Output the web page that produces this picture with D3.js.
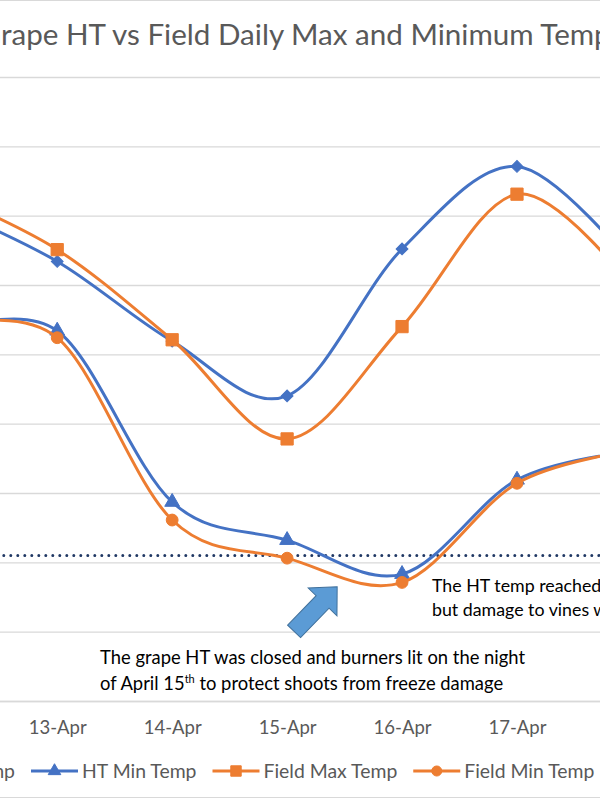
<!DOCTYPE html>
<html>
<head>
<meta charset="utf-8">
<script src="https://cdn.jsdelivr.net/npm/d3@7"></script>
<style>
  body { margin: 0; background: #fff; }
  text { font-family: Lato, "Open Sans", sans-serif; }
</style>
</head>
<body>
<svg id="chart" width="600" height="800"></svg>
<script>
// chart values (deg F)
var dates = ["12-Apr", "13-Apr", "14-Apr", "15-Apr", "16-Apr", "17-Apr", "18-Apr"];
var htMax = [81.4, 73.4, 61.9, 54.0, 75.2, 87.1, 72.9];
var htMin = [63.0, 63.4, 38.7, 33.2, 28.3, 41.9, 46.0];
var fieldMax = [83.3, 75.1, 62.1, 47.8, 64.0, 83.1, 69.7];
var fieldMin = [63.9, 62.4, 36.1, 30.6, 27.1, 41.4, 46.1];
var yTicks = [10, 20, 30, 40, 50, 60, 70, 80, 90, 100];
var freezeTemp = 31;

var titleText = "Grape HT vs Field Daily Max and Minimum Temperatures";
var noteRight = ["The HT temp reached 28\u00B0F", "but damage to vines was minimal"];

var svg = d3.select("#chart");
var W = 600, H = 800;
var grey = "#595959";

svg.append("rect").attr("width", W).attr("height", H).attr("fill", "#fff");

// chart border (only top and bottom visible in the crop)
svg.append("rect")
  .attr("x", -300).attr("y", 0.5)
  .attr("width", 1200).attr("height", 797)
  .attr("fill", "none").attr("stroke", "#d9d9d9");

var plotLeft = -115.2, plotRight = 689.4;
var x = d3.scalePoint().domain(dates).range([plotLeft, plotRight]).padding(0.5);
var y = d3.scaleLinear().domain([10, 100]).range([701, 77]);

// title
var title = svg.append("text")
  .attr("y", 45)
  .attr("fill", grey)
  .attr("font-size", 29.6)
  .text(titleText);
var gWidth = title.node().getSubStringLength(0, 1);
title.attr("x", -gWidth + 1);

// gridlines
var grid = svg.append("g")
  .attr("transform", "translate(" + plotLeft + ",0)")
  .call(d3.axisLeft(y).tickValues(yTicks).tickSize(-(plotRight - plotLeft)).tickPadding(10));
grid.select(".domain").remove();
grid.selectAll("line").attr("stroke", "#d9d9d9").attr("stroke-width", 1.3);
grid.selectAll("text").attr("fill", grey).attr("font-size", 19).attr("font-family", "Lato, sans-serif");

// category axis
var xAxis = svg.append("g")
  .attr("transform", "translate(0," + y(10) + ")")
  .call(d3.axisBottom(x).tickSize(0).tickPadding(20));
xAxis.select(".domain").attr("stroke", "#d9d9d9").attr("stroke-width", 1.3);
xAxis.selectAll("text").attr("fill", grey).attr("font-size", 18.5).attr("font-family", "Lato, sans-serif");

// freeze reference line
svg.append("line")
  .attr("x1", plotLeft).attr("x2", plotRight)
  .attr("y1", y(freezeTemp)).attr("y2", y(freezeTemp))
  .attr("stroke", "#203864")
  .attr("stroke-width", 3)
  .attr("stroke-linecap", "round")
  .attr("stroke-dasharray", "0 7");

var series = [
  { name: "HT Max Temp", values: htMax, color: "#4472C4", shape: "diamond" },
  { name: "HT Min Temp", values: htMin, color: "#4472C4", shape: "triangle" },
  { name: "Field Max Temp", values: fieldMax, color: "#ED7D31", shape: "square" },
  { name: "Field Min Temp", values: fieldMin, color: "#ED7D31", shape: "circle" }
];

function markerPath(shape, k) {
  if (shape == "diamond") return d3.symbol(d3.symbolSquare, 70 * k * k)();
  if (shape == "triangle") return d3.symbol(d3.symbolTriangle, 95 * k * k)();
  if (shape == "square") return d3.symbol(d3.symbolSquare, 150 * k * k)();
  return d3.symbol(d3.symbolCircle, 110 * k * k)();
}

var line = d3.line()
  .x(function(d, i) { return x(dates[i]); })
  .y(function(d) { return y(d); })
  .curve(d3.curveCardinal.tension(0));

series.forEach(function(s) {
  var g = svg.append("g");
  g.append("path")
    .attr("d", line(s.values))
    .attr("fill", "none")
    .attr("stroke", s.color)
    .attr("stroke-width", 3);
  g.selectAll("path.mark").data(s.values).enter().append("path")
    .attr("class", "mark")
    .attr("d", markerPath(s.shape, 1))
    .attr("transform", function(d, i) {
      return "translate(" + x(dates[i]) + "," + y(d) + ")" + (s.shape == "diamond" ? " rotate(45)" : "");
    })
    .attr("fill", s.color)
    .attr("stroke", s.color)
    .attr("stroke-width", 1);
});

// block arrow pointing at the 15-16 Apr low
var arrow = svg.append("g")
  .attr("transform", "translate(" + (x("15-Apr") + 7) + "," + (y(freezeTemp) + 76) + ") rotate(-46)");
var L = 62, hl = 21, sw = 9, hw = 20;
arrow.append("path")
  .attr("d", "M0," + (-sw) + "L" + (L - hl) + "," + (-sw) + "L" + (L - hl) + "," + (-hw) +
             "L" + L + ",0L" + (L - hl) + "," + hw + "L" + (L - hl) + "," + sw + "L0," + sw + "Z")
  .attr("fill", "#5B9BD5")
  .attr("stroke", "#41719C")
  .attr("stroke-width", 1);

// annotations
var noteR = svg.append("text")
  .attr("x", 432).attr("y", 592)
  .attr("font-size", 17.8).attr("fill", "#000");
noteR.selectAll("tspan").data(noteRight).enter().append("tspan")
  .attr("x", 432)
  .attr("dy", function(d, i) { return i == 0 ? 0 : 24; })
  .text(function(d) { return d; });

var noteB = svg.append("text")
  .attr("x", 100).attr("y", 664)
  .attr("font-size", 18.4).attr("fill", "#000");
noteB.append("tspan").attr("x", 100).text("The grape HT was closed and burners lit on the night");
noteB.append("tspan").attr("x", 100).attr("dy", 26).text("of April 15");
noteB.append("tspan").attr("dy", -7).attr("font-size", 11).text("th");
noteB.append("tspan").attr("dy", 7).text(" to protect shoots from freeze damage");

// legend
var legend = svg.append("g");
var cx = 0, starts = [];
series.forEach(function(s) {
  var item = legend.append("g").attr("transform", "translate(" + cx + ",0)");
  item.append("line")
    .attr("x1", 0).attr("x2", 47).attr("y1", 771).attr("y2", 771)
    .attr("stroke", s.color).attr("stroke-width", 3);
  item.append("path")
    .attr("d", markerPath(s.shape, 0.85))
    .attr("transform", "translate(23.5,771)" + (s.shape == "diamond" ? " rotate(45)" : ""))
    .attr("fill", s.color).attr("stroke", s.color);
  var t = item.append("text")
    .attr("x", 51).attr("y", 778)
    .attr("font-size", 19.4).attr("fill", grey)
    .text(s.name);
  starts.push(cx);
  cx += 51 + t.node().getComputedTextLength() + 16;
});
legend.attr("transform", "translate(" + (31 - starts[1]) + ",0)");
</script>
</body>
</html>
